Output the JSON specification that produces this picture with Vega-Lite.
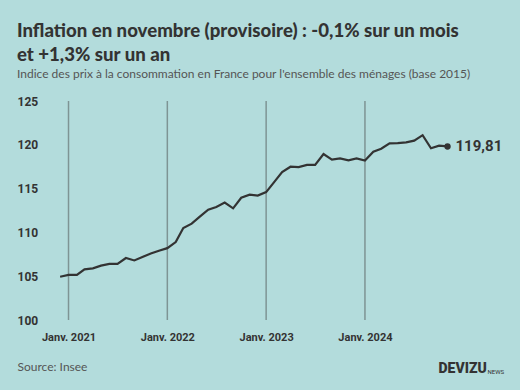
{
  "$schema": "https://vega.github.io/schema/vega-lite/v6.json",
  "width": 428,
  "height": 219,
  "autosize": "none",
  "padding": {"left": 52, "top": 101, "right": 40, "bottom": 70},
  "background": "#b3dcdc",
  "title": {
    "text": ["Inflation en novembre (provisoire) : -0,1% sur un mois", "et +1,3% sur un an"],
    "subtitle": "Indice des prix à la consommation en France pour l'ensemble des ménages (base 2015)",
    "anchor": "start",
    "frame": "group",
    "dx": -35,
    "offset": 15,
    "font": "Lato",
    "fontSize": 18.6,
    "fontWeight": 900,
    "color": "#333333",
    "lineHeight": 24,
    "subtitleFont": "Lato",
    "subtitleFontSize": 12,
    "subtitleColor": "#555555",
    "subtitlePadding": 4
  },
  "config": {
    "view": {"stroke": null},
    "axis": {"grid": false, "domain": false, "ticks": false},
    "locale": {"number": {"decimal": ",", "thousands": " ", "grouping": [3], "currency": ["", " €"]}}
  },
  "data": {
    "values": [
      {"date": "2020-12-01", "value": 104.94},
      {"date": "2021-01-01", "value": 105.14},
      {"date": "2021-02-01", "value": 105.14},
      {"date": "2021-03-01", "value": 105.78},
      {"date": "2021-04-01", "value": 105.9},
      {"date": "2021-05-01", "value": 106.2},
      {"date": "2021-06-01", "value": 106.4},
      {"date": "2021-07-01", "value": 106.4},
      {"date": "2021-08-01", "value": 107.08},
      {"date": "2021-09-01", "value": 106.8},
      {"date": "2021-10-01", "value": 107.2},
      {"date": "2021-11-01", "value": 107.6},
      {"date": "2021-12-01", "value": 107.9},
      {"date": "2022-01-01", "value": 108.2},
      {"date": "2022-02-01", "value": 108.9},
      {"date": "2022-03-01", "value": 110.5},
      {"date": "2022-04-01", "value": 111.0},
      {"date": "2022-05-01", "value": 111.8},
      {"date": "2022-06-01", "value": 112.6},
      {"date": "2022-07-01", "value": 112.9},
      {"date": "2022-08-01", "value": 113.4},
      {"date": "2022-09-01", "value": 112.75},
      {"date": "2022-10-01", "value": 113.96},
      {"date": "2022-11-01", "value": 114.3},
      {"date": "2022-12-01", "value": 114.2},
      {"date": "2023-01-01", "value": 114.6},
      {"date": "2023-02-01", "value": 115.8},
      {"date": "2023-03-01", "value": 116.9},
      {"date": "2023-04-01", "value": 117.5},
      {"date": "2023-05-01", "value": 117.45},
      {"date": "2023-06-01", "value": 117.7},
      {"date": "2023-07-01", "value": 117.7},
      {"date": "2023-08-01", "value": 118.95},
      {"date": "2023-09-01", "value": 118.3},
      {"date": "2023-10-01", "value": 118.45},
      {"date": "2023-11-01", "value": 118.23},
      {"date": "2023-12-01", "value": 118.45},
      {"date": "2024-01-01", "value": 118.2},
      {"date": "2024-02-01", "value": 119.2},
      {"date": "2024-03-01", "value": 119.55},
      {"date": "2024-04-01", "value": 120.17},
      {"date": "2024-05-01", "value": 120.2},
      {"date": "2024-06-01", "value": 120.28},
      {"date": "2024-07-01", "value": 120.47},
      {"date": "2024-08-01", "value": 121.1},
      {"date": "2024-09-01", "value": 119.6},
      {"date": "2024-10-01", "value": 119.9},
      {"date": "2024-11-01", "value": 119.81}
    ]
  },
  "resolve": {"scale": {"y": "independent"}},
  "layer": [
    {
      "data": {"values": [{"d": "2021-01-01"}, {"d": "2022-01-01"}, {"d": "2023-01-01"}, {"d": "2024-01-01"}]},
      "mark": {"type": "rule", "color": "#7e9494", "strokeWidth": 1.5},
      "encoding": {
        "x": {
          "field": "d", "type": "temporal",
          "scale": {"type": "utc", "domain": [{"year": 2020, "month": 11, "date": 1, "utc": true}, {"year": 2025, "month": 3, "date": 1, "utc": true}]},
          "axis": {
            "values": [
              {"year": 2021, "month": 1, "date": 1, "utc": true},
              {"year": 2022, "month": 1, "date": 1, "utc": true},
              {"year": 2023, "month": 1, "date": 1, "utc": true},
              {"year": 2024, "month": 1, "date": 1, "utc": true}
            ],
            "labelExpr": "'Janv. ' + utcFormat(datum.value, '%Y')",
            "labelFont": "Roboto",
            "labelFontSize": 11,
            "labelFontWeight": "bold",
            "labelColor": "#333333",
            "labelBaseline": "top",
            "labelPadding": 11,
            "title": "Source: Insee",
            "titleFont": "Lato",
            "titleFontSize": 12,
            "titleFontWeight": "normal",
            "titleColor": "#555555",
            "titleAnchor": "start",
            "titleAlign": "left",
            "titleBaseline": "middle",
            "titleX": -35,
            "titleY": 46
          }
        },
        "y": {
          "datum": 100, "type": "quantitative",
          "scale": {"domain": [100, 125], "zero": false, "nice": false},
          "axis": {
            "orient": "left",
            "values": [100, 105, 110, 115, 120, 125],
            "labelFont": "Roboto",
            "labelFontSize": 12,
            "labelFontWeight": "bold",
            "labelColor": "#333333",
            "labelAlign": "left",
            "labelBaseline": "middle",
            "labelPadding": 35,
            "title": "DEVIZU",
            "titleFont": "Roboto",
            "titleFontSize": 14,
            "titleFontWeight": 900,
            "titleColor": "#333333",
            "titleAngle": 0,
            "titleAlign": "left",
            "titleBaseline": "middle",
            "titleX": 386,
            "titleY": 267
          }
        },
        "y2": {"datum": 125}
      }
    },
    {
      "mark": {"type": "line", "color": "#333333", "strokeWidth": 2.2},
      "encoding": {
        "x": {"field": "date", "type": "temporal", "scale": {"type": "utc", "domain": [{"year": 2020, "month": 11, "date": 1, "utc": true}, {"year": 2025, "month": 3, "date": 1, "utc": true}]}},
        "y": {
          "field": "value", "type": "quantitative",
          "scale": {"domain": [100, 125], "zero": false, "nice": false},
          "axis": {
            "orient": "right",
            "labels": false,
            "title": "NEWS",
            "titleFont": "Roboto",
            "titleFontSize": 6,
            "titleFontWeight": "normal",
            "titleColor": "#333333",
            "titleAngle": 0,
            "titleAlign": "left",
            "titleBaseline": "middle",
            "titleX": 7,
            "titleY": 270
          }
        }
      }
    },
    {
      "transform": [{"filter": "datum.value == 119.81"}],
      "mark": {"type": "point", "filled": true, "color": "#333333", "size": 40, "opacity": 1},
      "encoding": {
        "x": {"field": "date", "type": "temporal"},
        "y": {"field": "value", "type": "quantitative", "scale": {"domain": [100, 125], "zero": false, "nice": false}, "axis": null}
      }
    },
    {
      "transform": [{"filter": "datum.value == 119.81"}],
      "mark": {"type": "text", "align": "left", "baseline": "middle", "dx": 8, "font": "Roboto", "fontSize": 15, "fontWeight": "bold", "color": "#333333"},
      "encoding": {
        "x": {"field": "date", "type": "temporal"},
        "y": {"field": "value", "type": "quantitative", "scale": {"domain": [100, 125], "zero": false, "nice": false}, "axis": null},
        "text": {"field": "value", "type": "quantitative", "format": ".2f"}
      }
    }
  ]
}
